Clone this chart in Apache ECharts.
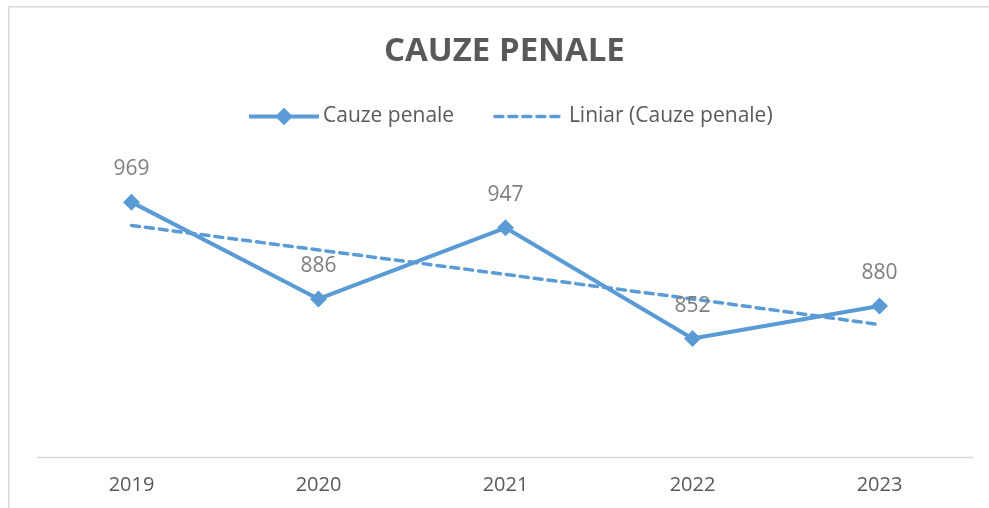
<!DOCTYPE html>
<html>
<head>
<meta charset="utf-8">
<title>Cauze penale</title>
<script src="https://cdn.jsdelivr.net/npm/echarts@6/dist/echarts.min.js"></script>
<style>
  html, body { margin: 0; padding: 0; background: #fff; }
  #chart { width: 989px; height: 508px; }
</style>
</head>
<body>
<div id="chart"></div>
<script>
var years = ['2019', '2020', '2021', '2022', '2023'];
var cauzePenale = [969, 886, 947, 852, 880];
// linear trend
var trendValues = [949, 928, 907, 886, 864];

var blue = '#5b9bd5';
var font = '"Open Sans", "Noto Sans", sans-serif';

window.onload = function() {
    var chart = echarts.init(document.getElementById('chart'));

    var option = {
        backgroundColor: '#fff',
        animation: false,
        textStyle: { fontFamily: font },
        title: {
            text: 'CAUZE PENALE',
            left: 384,
            top: 35,
            padding: 0,
            textStyle: {
                fontFamily: font,
                fontSize: 33,
                fontWeight: 'bold',
                color: '#595959'
            }
        },
        legend: {
            left: 247,
            top: 106,
            padding: 0,
            itemWidth: 70,
            itemHeight: 22,
            itemGap: 39,
            textStyle: {
                fontFamily: font,
                fontSize: 21,
                color: '#595959',
                padding: [0, 0, 0, -1]
            },
            data: [
                {
                    name: 'Cauze penale',
                    lineStyle: { width: 4 }
                },
                {
                    name: 'Liniar (Cauze penale)',
                    itemStyle: { color: 'rgba(0,0,0,0)', borderWidth: 0 },
                    lineStyle: { width: 3.5, type: [8, 6], cap: 'round' }
                }
            ]
        },
        grid: {
            left: 38,
            right: 16,
            top: 166,
            bottom: 50.5
        },
        xAxis: {
            type: 'category',
            data: years,
            axisLine: { lineStyle: { color: '#d9d9d9', width: 1.3 } },
            axisTick: { show: false },
            axisLabel: {
                margin: 18,
                fontFamily: font,
                fontSize: 20,
                color: '#595959'
            }
        },
        yAxis: {
            type: 'value',
            min: 750,
            max: 1000,
            show: false,
            splitLine: { show: false }
        },
        graphic: [
            {
                type: 'rect',
                shape: { x: 8.75, y: 6.75, width: 2000, height: 2000 },
                style: { fill: 'none', stroke: '#d9d9d9', lineWidth: 1.5 },
                silent: true
            }
        ],
        series: [
            {
                name: 'Cauze penale',
                type: 'line',
                data: cauzePenale,
                symbol: 'diamond',
                symbolSize: 17,
                itemStyle: { color: blue },
                lineStyle: { color: blue, width: 4 },
                label: {
                    show: true,
                    position: 'top',
                    distance: 14,
                    fontFamily: font,
                    fontSize: 21,
                    color: '#7f7f7f'
                },
                z: 3
            },
            {
                name: 'Liniar (Cauze penale)',
                type: 'line',
                data: trendValues,
                symbol: 'none',
                itemStyle: { color: blue },
                lineStyle: {
                    color: blue,
                    width: 3.5,
                    type: [8, 6],
                    cap: 'round'
                },
                z: 2
            }
        ]
    };

    chart.setOption(option);
};
</script>
</body>
</html>
